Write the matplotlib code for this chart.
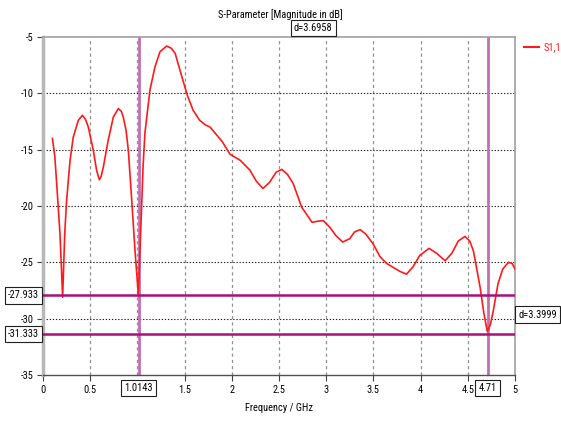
import matplotlib
matplotlib.use("Agg")
import matplotlib.pyplot as plt
from matplotlib.transforms import blended_transform_factory

plt.rcParams['font.family'] = ['Roboto Condensed', 'PT Sans Narrow', 'DejaVu Sans']

freq = [0.10, 0.125, 0.145, 0.18, 0.208, 0.23, 0.25, 0.286, 0.32, 0.374, 0.417, 0.45, 0.48, 0.533, 0.568,
        0.597, 0.615, 0.639, 0.69, 0.745, 0.798, 0.83, 0.85, 0.88, 0.904, 0.94, 0.975, 1.01, 1.03, 1.06,
        1.08, 1.133, 1.186, 1.24, 1.31, 1.36, 1.40, 1.47, 1.53, 1.59, 1.66, 1.72, 1.77, 1.80, 1.90,
        1.98, 2.09, 2.19, 2.26, 2.33, 2.40, 2.47, 2.53, 2.59, 2.65, 2.74, 2.85, 2.91, 2.97,
        3.04, 3.10, 3.175, 3.25, 3.30, 3.36, 3.42, 3.50, 3.57, 3.64, 3.71, 3.78, 3.85,
        3.92, 3.99, 4.09, 4.17, 4.26, 4.33, 4.40, 4.47, 4.52, 4.56, 4.63, 4.67, 4.707,
        4.74, 4.77, 4.82, 4.87, 4.93, 4.97, 5.0]
s11 = [-14.0, -15.6, -18.0, -22.5, -28.1, -22.5, -19.5, -16.0, -13.9, -12.4, -11.95, -12.3, -13.0, -15.06, -16.85,
       -17.67, -17.4, -16.55, -14.2, -12.1, -11.35, -11.6, -12.1, -13.3, -15.06, -19.5, -24.0, -27.9, -23.4, -16.5,
       -13.5, -9.7, -7.65, -6.3, -5.8, -6.0, -6.45, -8.5, -10.2, -11.5, -12.4, -12.8, -13.0, -13.3, -14.3,
       -15.4, -15.95, -16.8, -17.8, -18.45, -17.9, -17.0, -16.75, -17.2, -18.0, -20.1, -21.45, -21.35, -21.3,
       -21.9, -22.6, -23.2, -22.9, -22.3, -22.1, -22.5, -23.4, -24.5, -25.1, -25.45, -25.8, -26.05,
       -25.4, -24.4, -23.76, -24.2, -24.86, -24.2, -23.1, -22.7, -23.1, -24.0, -27.2, -29.5, -31.15,
       -30.5, -29.3, -26.9, -25.6, -25.0, -25.1, -25.6]

marker_x = [1.0143, 4.71]
marker_x_labels = ["1.0143", "4.71"]
marker_y = [-27.933, -31.333]
marker_y_labels = ["-27.933", "-31.333"]
dx_label = "d=3.6958"
dy_label = "d=3.3999"

xticks = [0, 0.5, 1.5, 2, 2.5, 3, 3.5, 4, 4.5, 5]
xtick_labels = ["0", "0.5", "1.5", "2", "2.5", "3", "3.5", "4", "4.5", "5"]
yticks = [-5, -10, -15, -20, -25, -30, -35]
ytick_labels = ["-5", "-10", "-15", "-20", "-25", "-30", "-35"]

fig = plt.figure(figsize=(5.61, 4.21), dpi=100)
ax = fig.add_axes([43/561, 1-375/421, (515-43)/561, (375-37)/421])
ax.set_xlim(0, 5)
ax.set_ylim(-35, -5)

fs = 7.5
for xv in [0.5, 1.0, 1.5, 2, 2.5, 3, 3.5, 4, 4.5]:
    ax.axvline(xv, color='#909090', lw=0.9, ls=(0, (2.5, 2.5)), zorder=1)
for yv in [-10, -15, -20, -25, -30]:
    ax.axhline(yv, color='#202020', lw=0.8, ls=(0, (1.2, 1.6)), zorder=1)

ax.plot(freq, s11, color='#ff1a1a', lw=1.2, zorder=3)

for mx in marker_x:
    ax.axvline(mx, color='#c070b0', lw=2.0, zorder=2)
for my in marker_y:
    ax.axhline(my, color='#a8107c', lw=1.8, zorder=4)

ax.set_xticks(xticks)
ax.set_xticklabels(xtick_labels, fontsize=fs)
ax.set_yticks(yticks)
ax.set_yticklabels(ytick_labels, fontsize=fs)
ax.tick_params(axis='both', direction='out', length=4, width=0.8, color='#404040', pad=3)

for s in ['top', 'right']:
    ax.spines[s].set_color('#a0a0a0')
    ax.spines[s].set_linewidth(1.2)
ax.spines['left'].set_color('#b8b8b8')
ax.spines['left'].set_linewidth(2.5)
ax.spines['bottom'].set_color('#505050')
ax.spines['bottom'].set_linewidth(1.0)

box = dict(boxstyle='square,pad=0.3', fc='white', ec='#202020', lw=0.8)
ytr = blended_transform_factory(ax.transAxes, ax.transData)
for my, lab in zip(marker_y, marker_y_labels):
    ax.text(-0.008, my, lab, transform=ytr, ha='right', va='center', fontsize=fs, bbox=box, zorder=10, clip_on=False)
xtr = blended_transform_factory(ax.transData, ax.transAxes)
for mx, lab in zip(marker_x, marker_x_labels):
    ax.text(mx, -0.038, lab, transform=xtr, ha='center', va='center', fontsize=fs, bbox=box, zorder=10, clip_on=False)

ax.set_xlabel("Frequency / GHz", fontsize=fs, labelpad=6)
fig.text(0.5, 1-15/421, "S-Parameter [Magnitude in dB]", ha='center', va='center', fontsize=fs)
ax.text((marker_x[0]+marker_x[1])/2, 1.027, dx_label, transform=xtr, ha='center', va='center', fontsize=fs, bbox=box, zorder=10, clip_on=False)
ax.text(1.007, (marker_y[0]+marker_y[1])/2, dy_label, transform=ytr, ha='left', va='center', fontsize=fs, bbox=box, zorder=10, clip_on=False)

fig.add_artist(plt.Line2D([524/561, 539/561], [1-47/421, 1-47/421], color='#ff1a1a', lw=1.5))
fig.text(544/561, 1-47/421, "S1,1", color='#ff1a1a', ha='left', va='center', fontsize=fs)

fig.savefig("out.png", dpi=100)
